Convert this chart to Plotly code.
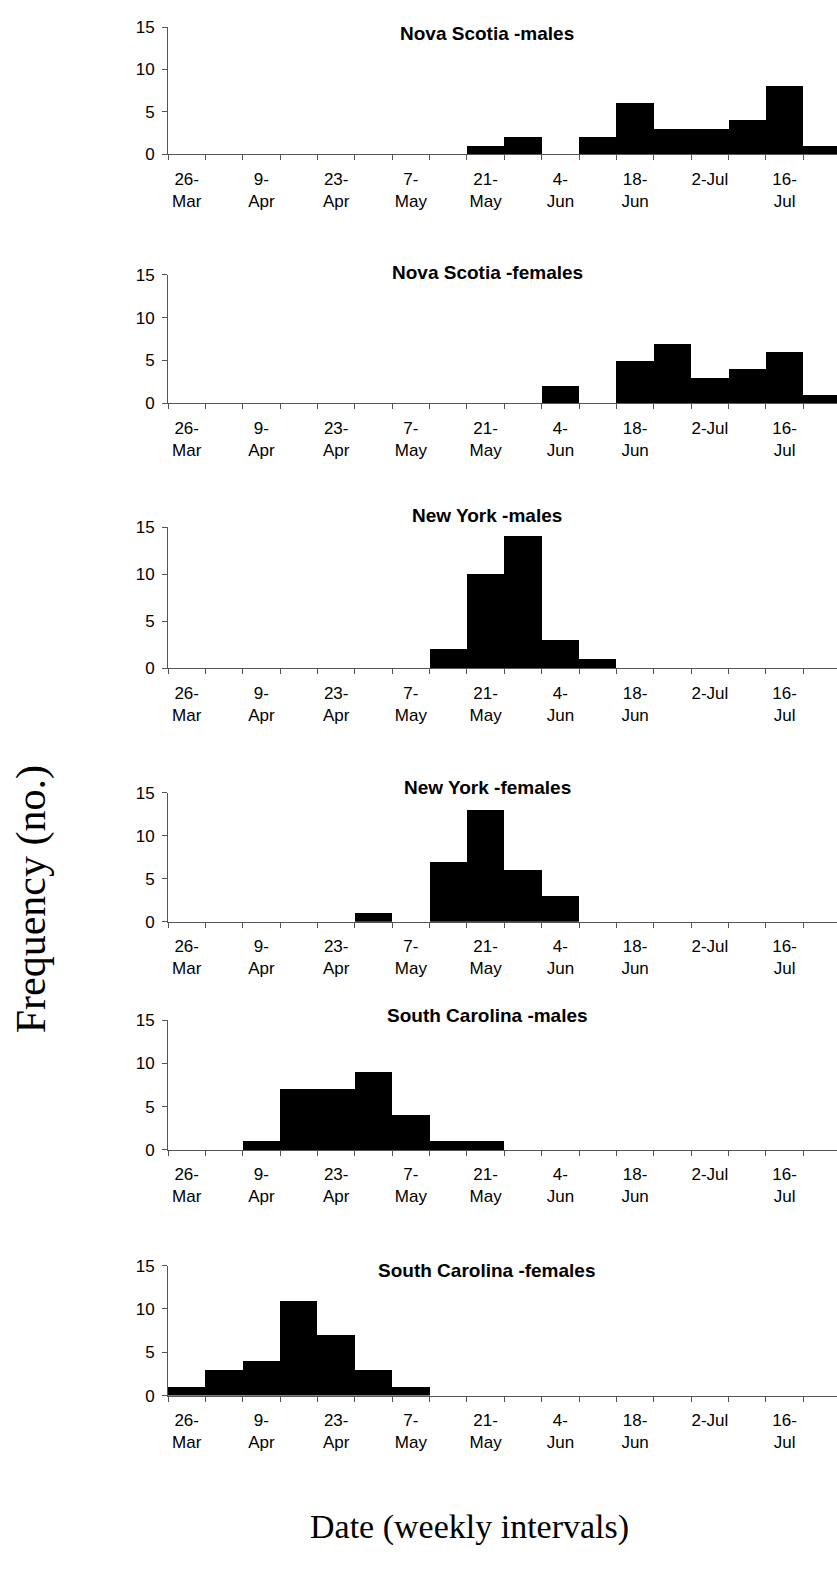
import plotly.graph_objects as go

W, H = 837, 1596

# ---- data ----
weeks = ["26-Mar", "2-Apr", "9-Apr", "16-Apr", "23-Apr", "30-Apr", "7-May", "14-May",
         "21-May", "28-May", "4-Jun", "11-Jun", "18-Jun", "25-Jun", "2-Jul", "9-Jul",
         "16-Jul", "23-Jul"]
tick_weeks = ["26-Mar", "9-Apr", "23-Apr", "7-May", "21-May", "4-Jun", "18-Jun", "2-Jul", "16-Jul"]
tick_text = ["26-<br>Mar", "9-<br>Apr", "23-<br>Apr", "7-<br>May", "21-<br>May",
             "4-<br>Jun", "18-<br>Jun", "2-Jul", "16-<br>Jul"]
y_ticks = [0, 5, 10, 15]

panel_titles = ["Nova Scotia -males", "Nova Scotia -females", "New York -males",
                "New York -females", "South Carolina -males", "South Carolina -females"]

ns_males = [0, 0, 0, 0, 0, 0, 0, 0, 1, 2, 0, 2, 6, 3, 3, 4, 8, 1]
ns_females = [0, 0, 0, 0, 0, 0, 0, 0, 0, 0, 2, 0, 5, 7, 3, 4, 6, 1]
ny_males = [0, 0, 0, 0, 0, 0, 0, 2, 10, 14, 3, 1, 0, 0, 0, 0, 0, 0]
ny_females = [0, 0, 0, 0, 0, 1, 0, 7, 13, 6, 3, 0, 0, 0, 0, 0, 0, 0]
sc_males = [0, 0, 1, 7, 7, 9, 4, 1, 1, 0, 0, 0, 0, 0, 0, 0, 0, 0]
sc_females = [1, 3, 4, 11, 7, 3, 1, 0, 0, 0, 0, 0, 0, 0, 0, 0, 0, 0]

series = [ns_males, ns_females, ny_males, ny_females, sc_males, sc_females]

# ---- geometry (pixels) ----
panel_top = [18.3, 269, 524.3, 793.3, 1023.3, 1271.7]
panel_bottom = [147, 399, 667.3, 923.7, 1154.7, 1403.3]
title_y = [24.5, 266.7, 513, 788, 1019, 1277]
x_left = 168
cat_px = 37.37

def py(p):
    return 1 - p / H

xpos = list(range(len(weeks)))
tickvals = [weeks.index(w) for w in tick_weeks]
x_max = -0.5 + (W - x_left) / cat_px

fig = go.Figure()
layout = dict(
    width=W, height=H,
    margin=dict(l=0, r=0, t=0, b=0),
    paper_bgcolor="white", plot_bgcolor="white",
    showlegend=False, bargap=0,
    annotations=[],
)

axis_color = "#555555"
tick_font = dict(family="Liberation Sans", size=17, color="black")

for i, vals in enumerate(series):
    n = "" if i == 0 else str(i + 1)
    fig.add_trace(go.Bar(
        x=xpos, y=vals, width=1,
        marker=dict(color="black", line=dict(width=0)),
        customdata=weeks, hovertemplate="%{customdata}: %{y}<extra></extra>",
        xaxis="x" + n, yaxis="y" + n,
    ))
    layout["xaxis" + n] = dict(
        domain=[x_left / W, 1], range=[-0.5, x_max], anchor="y" + n,
        tickmode="array", tickvals=tickvals, ticktext=tick_text,
        ticks="", showgrid=False, zeroline=False,
        showline=True, linecolor=axis_color, linewidth=1,
        tickfont=tick_font, ticklabelstandoff=9,
        minor=dict(tickmode="linear", tick0=-0.5, dtick=1, ticks="outside",
                   ticklen=5, tickcolor=axis_color, tickwidth=1, showgrid=False),
        fixedrange=True,
    )
    layout["yaxis" + n] = dict(
        domain=[py(panel_bottom[i]), py(panel_top[i])], range=[0, 15], anchor="x" + n,
        tickmode="array", tickvals=y_ticks,
        ticks="outside", ticklen=5, tickcolor=axis_color, tickwidth=1,
        showgrid=False, zeroline=False,
        showline=True, linecolor=axis_color, linewidth=1,
        tickfont=tick_font, ticklabelstandoff=4, fixedrange=True,
    )
    layout["annotations"].append(dict(
        text="<b>" + panel_titles[i] + "</b>", xref="paper", yref="paper",
        x=487 / W, y=py(title_y[i]), xanchor="center", yanchor="middle",
        showarrow=False, font=dict(family="Liberation Sans", size=19, color="black"),
    ))

layout["annotations"].append(dict(
    text="Frequency (no.)", xref="paper", yref="paper",
    x=31 / W, y=py(901), xanchor="center", yanchor="middle", textangle=-90,
    showarrow=False, font=dict(family="Liberation Serif", size=42, color="black"),
))
layout["annotations"].append(dict(
    text="Date (weekly intervals)", xref="paper", yref="paper",
    x=469 / W, y=py(1536), xanchor="center", yanchor="middle",
    showarrow=False, font=dict(family="Liberation Serif", size=34, color="black"),
))

fig.update_layout(**layout)
fig.write_html("out.html")
